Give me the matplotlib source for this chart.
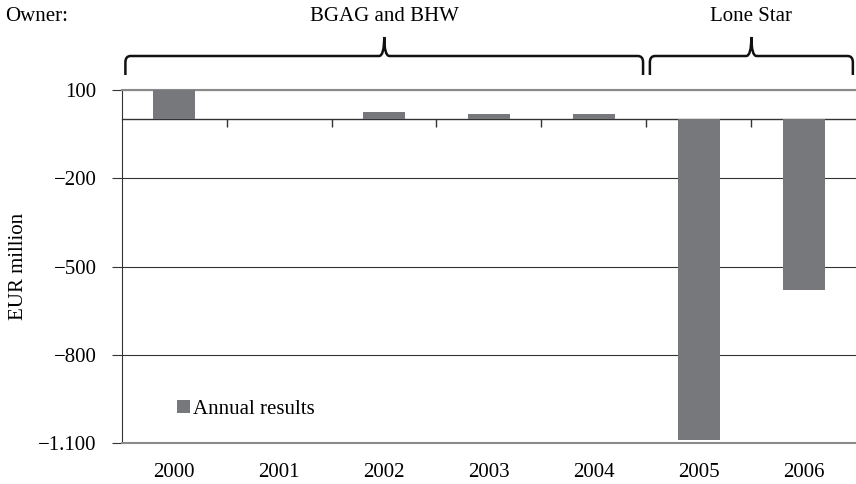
import matplotlib
matplotlib.use("Agg")
import matplotlib.pyplot as plt
from matplotlib.path import Path
from matplotlib.patches import PathPatch
from matplotlib.transforms import blended_transform_factory
import numpy as np

# data
years = ["2000", "2001", "2002", "2003", "2004", "2005", "2006"]
results = [100, 0, 24, 17, 17, -1088, -578]
owners = ["BGAG and BHW", "Lone Star"]
owner_first = [0, 5]
owner_last = [4, 6]
yticks = [100, -200, -500, -800, -1100]
ytick_labels = ["100", "\u2212200", "\u2212500", "\u2212800", "\u22121.100"]

plt.rcParams['font.family'] = ['Liberation Serif', 'DejaVu Serif']
plt.rcParams['font.size'] = 15

fig = plt.figure(figsize=(8.56, 4.84), dpi=100)
ax = fig.add_axes([0.1422, 0.0841, 0.8578, 0.7300])

x = np.arange(len(years))
ax.bar(x, results, width=0.4, color='#77787b', label='Annual results', zorder=3)
ax.set_xlim(-0.5, len(years) - 0.5)
ax.set_ylim(yticks[-1], yticks[0])

ax.set_yticks(yticks, ytick_labels)
ax.yaxis.grid(True, color='#333333', lw=0.8, zorder=1)
ax.set_axisbelow(True)
ax.tick_params(axis='y', direction='out', length=7, pad=11, color='#333333')

ax.set_xticks(x, years)
ax.tick_params(axis='x', length=0, pad=14)

for s in ['top', 'bottom']:
    ax.spines[s].set_color('#8a8a8a')
    ax.spines[s].set_linewidth(1.5)
ax.spines['right'].set_visible(False)
ax.spines['left'].set_color('#333333')

# zero line with tick marks between categories
ylo, yhi = ax.get_ylim()
sec = ax.secondary_xaxis((0 - ylo) / (yhi - ylo))
sec.set_xticks(x[:-1] + 0.5, [''] * (len(x) - 1))
sec.xaxis.set_ticks_position('bottom')
sec.tick_params(direction='out', length=6, color='#333333', width=1)
for s in sec.spines.values():
    s.set_color('#333333')
    s.set_linewidth(1)

ax.set_ylabel("EUR million")
ax.yaxis.set_label_coords(-0.128, 0.5)

ax.legend(loc='lower left', bbox_to_anchor=(0.0753, 0.07), frameon=False,
          handlelength=0.6, handleheight=0.6, handletextpad=0.15,
          borderpad=0, borderaxespad=0)

# owner braces
tr = blended_transform_factory(ax.transData, fig.transFigure)
y_end, y_bar, y_tip = 0.845, 0.8843, 0.9236
rx, ry = 0.05, 0.013
for name, a, b in zip(owners, owner_first, owner_last):
    x0 = a - 0.5 + 0.035
    x1 = b + 0.5 - 0.03
    xm = (x0 + x1) / 2
    verts = [(x0, y_end), (x0, y_bar - ry),
             (x0, y_bar), (x0 + rx, y_bar),
             (xm - rx, y_bar),
             (xm, y_bar), (xm, y_tip),
             (xm, y_bar), (xm + rx, y_bar),
             (x1 - rx, y_bar),
             (x1, y_bar), (x1, y_bar - ry),
             (x1, y_end)]
    codes = [Path.MOVETO, Path.LINETO,
             Path.CURVE3, Path.CURVE3,
             Path.LINETO,
             Path.CURVE3, Path.CURVE3,
             Path.CURVE3, Path.CURVE3,
             Path.LINETO,
             Path.CURVE3, Path.CURVE3,
             Path.LINETO]
    patch = PathPatch(Path(verts, codes), transform=tr, fill=False,
                      lw=1.8, color='#111111', clip_on=False)
    fig.add_artist(patch)
    fig.text(xm, 0.966, name, transform=tr, ha='center', va='center')

fig.text(0.006, 0.966, "Owner:", ha='left', va='center')

fig.savefig("out.png", dpi=100)
